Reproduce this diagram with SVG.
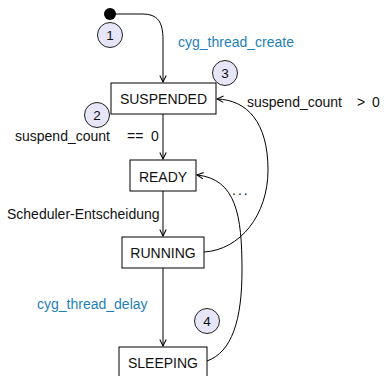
<svg xmlns="http://www.w3.org/2000/svg" width="384" height="376" viewBox="0 0 384 376">
  <style>
    .box { fill: #ffffff; stroke: #000000; stroke-width: 1; }
    .state { font-family: "Liberation Sans", Arial, sans-serif; font-size: 14px; fill: #111111; text-anchor: middle; }
    .lbl { font-family: "Liberation Sans", Arial, sans-serif; font-size: 14px; fill: #111111; }
    .api { font-family: "Liberation Sans", Arial, sans-serif; font-size: 14px; fill: #1f7fba; }
    .num { fill: #e6e6f8; stroke: #222222; stroke-width: 1; }
    .numtxt { font-family: "Liberation Sans", Arial, sans-serif; font-size: 13.5px; fill: #111111; text-anchor: middle; }
    .edge { fill: none; stroke: #000000; stroke-width: 1; }
  </style>
  <defs>
    <marker id="arrow" viewBox="0 0 10 10" refX="9" refY="5" markerWidth="8" markerHeight="8" orient="auto" markerUnits="userSpaceOnUse">
      <path d="M1,1 L9,5 L1,9" fill="none" stroke="#000000" stroke-width="1.3"/>
    </marker>
  </defs>
  <rect width="384" height="376" fill="#ffffff"/>

  <!-- transitions -->
  <g id="connectors">
    <path class="edge" d="M110,14 L142,14 C158,14 163,22 163,40 L163,82" marker-end="url(#arrow)"/>
    <path class="edge" d="M163,114 L163,159" marker-end="url(#arrow)"/>
    <path class="edge" d="M163,191 L163,236" marker-end="url(#arrow)"/>
    <path class="edge" d="M163,268 L163,346" marker-end="url(#arrow)"/>
    <path class="edge" d="M204,252 C240,250 268,215 268,170 C268,122 247,100 217,99" marker-end="url(#arrow)"/>
    <path class="edge" d="M207,361 C232,352 242,320 242,270 C242,215 236,179 197,175" marker-end="url(#arrow)"/>
  </g>

  <!-- initial pseudo-state -->
  <g id="start">
    <circle cx="110" cy="14" r="6" fill="#000000"/>
  </g>

  <g id="suspended">
    <rect class="box" x="111" y="83" width="105" height="31"/>
    <text class="state" x="163.5" y="104">SUSPENDED</text>
  </g>
  <g id="ready">
    <rect class="box" x="130" y="160" width="66" height="31"/>
    <text class="state" x="163" y="181.5">READY</text>
  </g>
  <g id="running">
    <rect class="box" x="122" y="237" width="82" height="31"/>
    <text class="state" x="163" y="258">RUNNING</text>
  </g>
  <g id="sleeping">
    <rect class="box" x="119" y="347" width="88" height="31"/>
    <text class="state" x="163" y="368">SLEEPING</text>
  </g>

  <!-- transition labels -->
  <g id="labels">
    <text class="api" x="178" y="47">cyg_thread_create</text>
    <text class="lbl" x="15" y="141">suspend_count</text>
    <text class="lbl" x="127" y="141">==</text>
    <text class="lbl" x="151" y="141">0</text>
    <text class="lbl" x="7" y="219">Scheduler-Entscheidung</text>
    <text class="api" x="37" y="309">cyg_thread_delay</text>
    <text class="lbl" x="247" y="107">suspend_count</text>
    <text class="lbl" x="357" y="107">&gt;</text>
    <text class="lbl" x="372" y="107">0</text>
    <text class="lbl" x="232" y="195" letter-spacing="2">...</text>
  </g>

  <!-- numbered markers -->
  <g id="marker1">
    <circle class="num" cx="110" cy="35" r="12.5"/>
    <text class="numtxt" x="110" y="40">1</text>
  </g>
  <g id="marker2">
    <circle class="num" cx="97" cy="115" r="12.5"/>
    <text class="numtxt" x="97" y="120">2</text>
  </g>
  <g id="marker3">
    <circle class="num" cx="225" cy="73" r="12.5"/>
    <text class="numtxt" x="225" y="78">3</text>
  </g>
  <g id="marker4">
    <circle class="num" cx="207" cy="321" r="12.5"/>
    <text class="numtxt" x="207" y="326">4</text>
  </g>
</svg>
